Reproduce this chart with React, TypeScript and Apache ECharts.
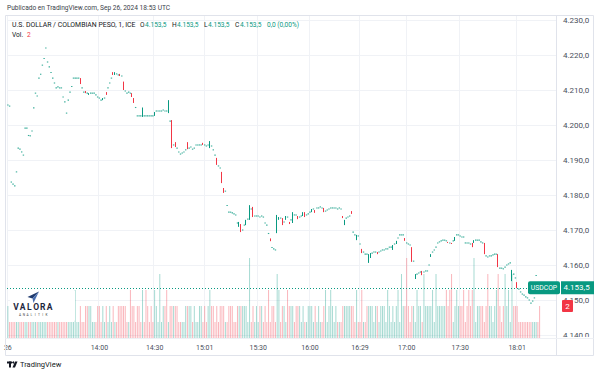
import React, { useEffect, useRef } from "react";
import * as echarts from "echarts";

// Each bar: a number = flat bar (open = close), [open, close] or [open, close, low, high]
const bars: (number | number[])[] = [
  4205.7, 4205.4, 4183.7, 4183.1, 4182.6, 4186.6, 4193.4, 4193.1, 4192.3, 4191.4,
  4199.1, 4199.1, 4197.0, 4196.9, 4198.3, 4204.9, 4209.1, 4208.3, 4213.4, 4214.5,
  4217.1, 4219.0, 4222.0, 4218.0, 4216.6, 4215.0, 4213.4, 4212.0, 4210.6, 4210.9,
  4210.6, 4210.6, 4208.0, 4206.6, 4203.4, 4207.1, 4209.4, 4211.0, 4213.4, 4213.4,
  4213.4, 4213.4, [4213.4, 4211.7], 4210.6, 4209.4, [4209.7, 4209.1], 4209.1, [4208.6, 4209.1], 4209.1, 4209.1,
  4209.1, 4208.6, 4208.0, 4207.7, 4207.1, [4207.1, 4207.7], 4207.7, [4209.4, 4208.6], 4210.6, 4212.0,
  4213.4, [4215.1, 4214.3], [4214.3, 4215.1], 4214.6, 4214.3, [4214.6, 4214.0], 4214.0, [4212.4, 4210.0], 4209.7, 4209.1,
  4209.4, 4209.1, [4209.1, 4208.0], [4207.7, 4206.3], 4205.0, 4202.6, 4202.6, 4202.6, [4202.6, 4202.9, 4202.3, 4205.0], 4202.6,
  4202.6, 4202.6, 4202.6, 4202.6, 4202.6, [4202.6, 4203.7], 4204.0, 4204.0, 4204.0, 4204.0,
  4204.3, 4204.0, 4204.0, [4203.7, 4206.0, 4203.4, 4207.1], 4201.1, [4201.1, 4193.7, 4193.4, 4201.4], 4194.3, [4195.1, 4193.7], 4193.4, 4192.3,
  4191.7, 4192.0, 4192.3, 4192.9, [4195.1, 4193.1], 4193.4, 4193.7, 4193.1, 4193.4, 4194.3,
  4194.3, 4194.3, 4194.3, [4194.9, 4194.3], 4194.3, 4194.0, 4194.3, [4193.7, 4195.1, 4193.4, 4195.4], 4194.0, 4192.9,
  4191.4, [4190.6, 4188.6], 4188.3, 4187.7, [4186.6, 4183.4], [4182.0, 4180.6], 4181.1, 4177.0, 4175.1, 4175.1,
  4174.9, 4174.6, 4174.3, 4172.0, [4170.9, 4172.3], [4171.7, 4169.4], 4170.0, 4171.4, [4171.4, 4172.9], 4173.1,
  [4172.9, 4177.1], 4176.0, [4176.6, 4173.7], 4174.0, 4174.0, 4174.0, 4173.7, 4174.0, 4173.7, 4172.0,
  4171.4, 4169.0, [4167.6, 4166.8], 4165.0, 4164.6, 4164.3, [4169.1, 4174.3], [4172.9, 4173.7], 4173.4, [4173.4, 4171.4],
  4172.3, [4172.9, 4174.0], 4173.7, [4172.3, 4171.7], 4172.9, [4172.0, 4175.1], 4174.3, 4174.3, [4174.0, 4173.1], 4173.7,
  4174.0, [4174.0, 4175.1], [4175.1, 4173.7], 4174.3, 4174.6, 4175.1, [4175.1, 4176.0], 4176.0, [4175.7, 4174.9], 4176.3,
  4176.3, 4176.6, 4176.3, [4176.3, 4175.1], 4175.4, 4175.7, 4176.0, 4176.3, 4176.3, 4176.3,
  4176.3, 4176.0, 4176.3, 4176.0, [4174.0, 4173.4], [4171.4, 4172.9], 4173.4, 4173.7, 4174.0, [4175.4, 4174.6],
  4169.4, 4168.6, [4167.1, 4168.6], 4168.3, 4166.0, [4164.6, 4163.4], 4163.7, 4163.1, 4163.1, [4160.6, 4163.1],
  [4162.0, 4163.4], 4163.4, 4163.7, 4163.7, [4163.7, 4163.1], 4163.7, 4164.0, 4164.3, 4164.3, 4164.6,
  4164.6, 4165.1, 4165.1, [4164.3, 4165.7], 4166.0, [4166.0, 4166.9], 4167.7, 4168.6, 4168.6, 4168.6,
  [4167.7, 4166.9], 4166.3, 4166.0, 4165.7, [4165.1, 4160.9], 4161.1, [4156.0, 4157.4], 4157.4, 4157.7, 4158.0,
  [4158.3, 4157.1], 4158.0, 4158.3, 4158.3, 4160.0, [4162.3, 4163.1], 4163.7, 4164.3, 4165.1, 4166.3,
  4166.6, 4166.9, 4167.1, 4167.1, 4166.9, [4166.6, 4166.3], 4166.3, [4166.3, 4166.0], 4166.9, [4166.9, 4168.0],
  4168.6, 4168.6, 4168.3, 4168.0, 4168.0, 4166.3, 4166.3, 4166.3, 4166.0, [4166.3, 4165.1],
  [4166.3, 4167.1], 4167.1, 4167.1, 4167.1, 4166.6, 4166.3, [4166.3, 4163.1], 4162.6, 4162.3, 4162.6,
  4162.6, 4162.9, 4163.1, 4163.1, [4163.1, 4159.4], 4159.1, 4159.1, 4158.9, 4159.4, 4160.0,
  4160.3, 4160.6, [4155.7, 4158.0, 4155.4, 4158.6], 4157.4, 4156.3, [4155.1, 4153.4], 4153.1, 4152.3, 4151.7, 4151.4,
  4150.9, 4150.6, 4150.0, 4149.1, 4149.7, 4150.6, 4157.0, 4153.5, 4153.5,
];

const volumes: number[] = [
  2, 1, 1, 1, 1, 1, 1, 1, 1, 1,
  1, 1, 1, 1, 1, 1, 1, 1, 1, 1,
  1, 1, 1, 1, 1, 1, 1, 1, 1, 1,
  1, 1, 1, 1, 1, 1, 1, 1, 1, 3,
  1, 1, 2, 1, 1, 2, 2, 2, 2, 1,
  1, 1, 2, 2, 1, 2, 1, 2, 1, 2,
  1, 2, 1, 1, 2, 2, 2, 2, 2, 1,
  1, 3, 2, 2, 1, 2, 2, 1, 3, 1,
  3, 2, 1, 2, 1, 3, 2, 1, 4, 1,
  2, 2, 3, 1, 2, 2, 2, 2, 2, 1,
  1, 1, 1, 2, 2, 2, 2, 1, 2, 1,
  1, 2, 2, 1, 2, 1, 2, 3, 2, 2,
  1, 2, 1, 2, 2, 2, 1, 1, 2, 2,
  2, 1, 1, 2, 2, 2, 2, 2, 2, 1,
  5, 1, 2, 1, 2, 1, 2, 2, 1, 2,
  1, 3, 1, 2, 2, 1, 4, 3, 1, 2,
  2, 1, 3, 2, 2, 2, 1, 2, 2, 2,
  1, 2, 1, 1, 2, 2, 2, 1, 2, 1,
  2, 1, 1, 2, 3, 1, 2, 3, 2, 1,
  2, 1, 1, 1, 2, 2, 2, 2, 2, 2,
  2, 1, 3, 1, 1, 3, 1, 1, 2, 2,
  2, 2, 1, 2, 2, 1, 2, 2, 2, 1,
  3, 2, 1, 2, 1, 2, 3, 1, 4, 2,
  2, 5, 2, 1, 2, 2, 1, 3, 2, 2,
  1, 4, 2, 2, 2, 2, 3, 1, 4, 2,
  2, 2, 2, 2, 3, 2, 3, 4, 1, 2,
  3, 2, 2, 2, 3, 1, 2, 3, 2, 3,
  5, 1, 2, 2, 2, 2, 1, 2, 4, 2,
  2, 1, 2, 3, 4, 2, 1, 2, 4, 2,
  3, 1, 4, 2, 2, 2, 1, 1, 1, 1,
  1, 1, 1, 1, 1, 1, 1, 1, 2,
];

const tickIndex = [0, 53, 85, 114, 145, 175, 204, 231, 262, 295];
const tickLabels = ["26", "14:00", "14:30", "15:01", "15:30", "16:00", "16:29", "17:00", "17:30", "18:01"];

const priceMin = 4140;
const priceMax = 4230;
const priceStep = 10;
const lastPrice = 4153.5;
const lastVolume = 2;
const blankBars = 9;

const UP = "#089981";
const DOWN = "#f23645";
const UP_VOL = "rgba(8,153,129,0.36)";
const DOWN_VOL = "rgba(242,54,69,0.36)";
const FONT = "Roboto, 'Open Sans', sans-serif";

function fmtPrice(v: number): string {
  const s = v.toFixed(1);
  const [int, dec] = s.split(".");
  return int.replace(/\B(?=(\d{3})+(?!\d))/g, ".") + "," + dec;
}

export default function App() {
  const ref = useRef<HTMLDivElement>(null);

  useEffect(() => {
    if (!ref.current) return;
    const chart = echarts.init(ref.current, null, { renderer: "svg" });

    const N = bars.length + blankBars;
    const categories = Array.from({ length: N }, (_, i) => String(i));
    const ohlc = bars.map((b) => {
      if (typeof b === "number") return [b, b, b, b];
      if (b.length === 2) return [b[0], b[1], Math.min(b[0], b[1]), Math.max(b[0], b[1])];
      return [b[0], b[1], b[2], b[3]];
    });
    const isFlat = (d: number[]) => d[0] === d[1] && d[2] === d[3];
    // volume direction: close vs open, ties resolved against previous close
    const dirs: number[] = [];
    ohlc.forEach((d, i) => {
      let s: number;
      if (d[1] > d[0]) s = 1;
      else if (d[1] < d[0]) s = -1;
      else if (i > 0 && d[1] > ohlc[i - 1][1]) s = 1;
      else if (i > 0 && d[1] < ohlc[i - 1][1]) s = -1;
      else s = i > 0 ? dirs[i - 1] : 1;
      dirs.push(s);
    });
    const candleData = ohlc.map((d) => {
      if (isFlat(d)) return "-";
      const c = d[1] >= d[0] ? UP : DOWN;
      return { value: d, itemStyle: { color: c, color0: c, borderColor: c, borderColor0: c } };
    });
    // flat bars (open = close) are drawn as short dashes in the up colour, as in the reference
    const flatData = ohlc.map((d, i) => (isFlat(d) ? [i, d[1]] : "-"));
    const volData = volumes.map((v, i) => ({
      value: v,
      itemStyle: { color: dirs[i] > 0 ? UP_VOL : DOWN_VOL },
    }));
    const tickSet = new Set(tickIndex);

    const gridLeft = 7;
    const gridRight = 44;

    chart.setOption({
      animation: false,
      backgroundColor: "#ffffff",
      grid: [
        { left: gridLeft, right: gridRight, top: 20, bottom: 39 },
        { left: gridLeft, right: gridRight, top: 16, bottom: 36 },
      ],
      xAxis: [
        { type: "category", gridIndex: 0, data: categories, show: false },
        {
          type: "category",
          gridIndex: 1,
          data: categories,
          axisLine: { show: false },
          axisTick: { show: false },
          axisLabel: {
            interval: (idx: number) => tickSet.has(idx),
            formatter: (_v: string, idx: number) => {
              const k = tickIndex.indexOf(idx);
              return k >= 0 ? tickLabels[k] : "";
            },
            color: "#4a4f5c",
            fontSize: 7,
            fontFamily: FONT,
            margin: 6,
          },
          splitLine: {
            show: true,
            interval: (idx: number) => tickSet.has(idx),
            lineStyle: { color: "#f0f2f6", width: 1 },
          },
        },
      ],
      yAxis: [
        {
          type: "value",
          gridIndex: 0,
          position: "right",
          min: priceMin,
          max: priceMax,
          interval: priceStep,
          axisLine: { show: false },
          axisTick: { show: false },
          axisLabel: {
            formatter: (v: number) => fmtPrice(v),
            color: "#4a4f5c",
            fontSize: 8,
            fontFamily: FONT,
            margin: 7,
          },
          splitLine: { show: true, lineStyle: { color: "#f0f2f6", width: 1 } },
        },
        {
          type: "value",
          gridIndex: 1,
          min: 0,
          max: 20.125,
          show: false,
          splitLine: { show: false },
        },
      ],
      series: [
        {
          type: "bar",
          xAxisIndex: 1,
          yAxisIndex: 1,
          data: volData,
          barWidth: 1,
          z: 1,
          silent: true,
        },
        {
          type: "candlestick",
          xAxisIndex: 0,
          yAxisIndex: 0,
          data: candleData,
          barWidth: 1.2,
          barMinWidth: 1,
          z: 3,
          itemStyle: { borderWidth: 1 },
          markLine: {
            silent: true,
            symbol: "none",
            label: { show: false },
            lineStyle: { color: UP, type: [1, 2], width: 1 },
            data: [{ yAxis: lastPrice }],
          },
        },
        {
          type: "scatter",
          xAxisIndex: 0,
          yAxisIndex: 0,
          data: flatData,
          symbol: "rect",
          symbolSize: [1.4, 1.1],
          itemStyle: { color: UP },
          z: 3,
          silent: true,
        },
      ],
    });

    const yP = chart.convertToPixel({ yAxisIndex: 0 }, lastPrice) as number;
    const yV = chart.convertToPixel({ yAxisIndex: 1 }, lastVolume) as number;

    const txt = (text: string, x: number, y: number, fill: string, size: number, extra: any = {}) => ({
      type: "text",
      z: 120,
      style: {
        text,
        x,
        y,
        fill,
        fontSize: size,
        fontFamily: FONT,
        textVerticalAlign: "middle",
        verticalAlign: "middle",
        ...extra,
      },
    });

    const valora = "VALORA".split("").map((ch, k) =>
      txt(ch, 16 + k * 6.7, 306.5, "#1e2740", 8.5, { fontWeight: "bold", textAlign: "center", align: "center" })
    );
    const analitik = "ANALITIK".split("").map((ch, k) =>
      txt(ch, 20 + k * 3.8, 314.5, "#444", 3.2, { textAlign: "center", align: "center" })
    );

    chart.setOption({
      graphic: [
        // frame
        { type: "rect", z: 110, shape: { x: 557, y: 337, width: 36, height: 18 }, style: { fill: "#fff" } },
        { type: "rect", z: 111, shape: { x: 5.5, y: 15.5, width: 588, height: 340 }, style: { fill: "none", stroke: "#e0e3eb", lineWidth: 1 } },
        { type: "line", z: 111, shape: { x1: 556.5, y1: 15.5, x2: 556.5, y2: 355.5 }, style: { stroke: "#e0e3eb", lineWidth: 1 } },
        { type: "line", z: 111, shape: { x1: 5.5, y1: 338.5, x2: 593.5, y2: 338.5 }, style: { stroke: "#eef0f4", lineWidth: 1 } },
        // Valora logo
        { type: "rect", z: 100, shape: { x: 10, y: 291, width: 65, height: 29.5 }, style: { fill: "#fff" } },
        { type: "polygon", z: 101, shape: { points: [[39, 291.5], [27.5, 297], [32.5, 298.5]] }, style: { fill: "#1f3a6e" } },
        { type: "polygon", z: 101, shape: { points: [[39, 291.5], [32.5, 298.5], [33.5, 303]] }, style: { fill: "#4a6fb0" } },
        ...valora,
        ...analitik,
        // header
        txt("Publicado en TradingView.com, Sep 26, 2024 18:53 UTC", 7, 7.5, "#3a3e48", 6.6),
        txt("U.S. DOLLAR / COLOMBIAN PESO, 1, ICE", 12, 24.5, "#131722", 6.9),
        txt("O", 140, 24.5, "#131722", 6.6),
        txt(fmtPrice(lastPrice), 145, 24.5, UP, 6.6),
        txt("H", 172, 24.5, "#131722", 6.6),
        txt(fmtPrice(lastPrice), 177, 24.5, UP, 6.6),
        txt("L", 204, 24.5, "#131722", 6.6),
        txt(fmtPrice(lastPrice), 208, 24.5, UP, 6.6),
        txt("C", 235, 24.5, "#131722", 6.6),
        txt(fmtPrice(lastPrice), 240, 24.5, UP, 6.6),
        txt("0,0 (0,00%)", 267, 24.5, UP, 6.6),
        txt("Vol.", 12, 34.5, "#131722", 6.6),
        txt(String(lastVolume), 27, 34.5, DOWN, 6.6),
        // last price labels
        { type: "rect", z: 115, shape: { x: 528, y: yP - 6.5, width: 32, height: 13, r: 2 }, style: { fill: UP } },
        txt("USDCOP", 544, yP, "#fff", 6.8, { textAlign: "center", align: "center" }),
        { type: "rect", z: 115, shape: { x: 561, y: yP - 6.5, width: 33, height: 13 }, style: { fill: UP } },
        txt(fmtPrice(lastPrice), 563.5, yP, "#fff", 8),
        { type: "rect", z: 115, shape: { x: 562, y: yV - 6, width: 11, height: 12, r: 1 }, style: { fill: DOWN } },
        txt(String(lastVolume), 567.5, yV, "#fff", 8, { textAlign: "center", align: "center" }),
        // TradingView logo
        { type: "rect", z: 101, shape: { x: 7, y: 361.5, width: 5, height: 2 }, style: { fill: "#131722" } },
        { type: "rect", z: 101, shape: { x: 9, y: 361.5, width: 2, height: 6 }, style: { fill: "#131722" } },
        { type: "circle", z: 101, shape: { cx: 13.2, cy: 362.5, r: 1 }, style: { fill: "#131722" } },
        { type: "polygon", z: 101, shape: { points: [[15, 361.5], [17.5, 361.5], [15, 367.5], [12.5, 367.5]] }, style: { fill: "#131722" } },
        txt("TradingView", 20, 364.5, "#131722", 7.5),
      ],
    });

    return () => chart.dispose();
  }, []);

  return (
    <div
      ref={ref}
      style={{ position: "fixed", left: 0, top: 0, width: 600, height: 374, background: "#fff" }}
    />
  );
}
